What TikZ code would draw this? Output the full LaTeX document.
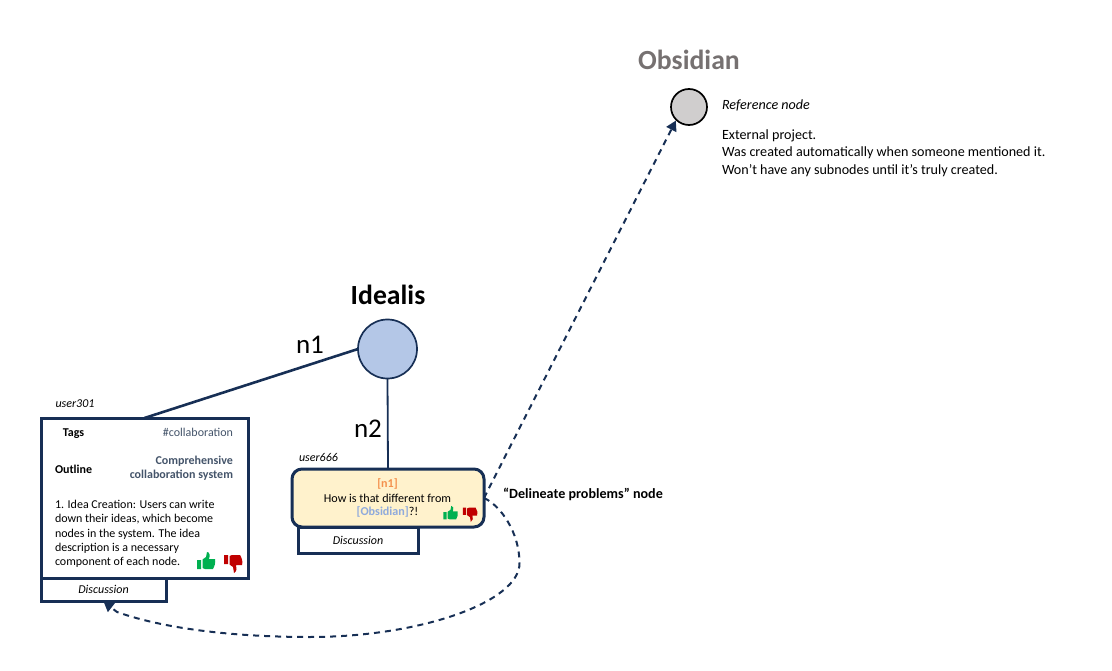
\documentclass[tikz,border=0pt]{standalone}
\usepackage{fontspec}
\setmainfont{Carlito}
\usetikzlibrary{arrows.meta,calc}
\definecolor{navy}{HTML}{172F55}
\definecolor{slate}{HTML}{44546A}
\definecolor{gr}{HTML}{00B050}
\definecolor{rd}{HTML}{C00000}
\tikzset{
  x=1pt,y=-1pt,
  txt/.style={inner sep=0pt,outer sep=0pt,font=\fontsize{12}{14.4}\selectfont,text=black},
  boxline/.style={draw=navy,line width=3pt,fill=white,inner sep=0pt,outer sep=0pt},
  link/.style={draw=navy,line width=2.6pt},
  dlink/.style={draw=navy,line width=2pt,dash pattern=on 6pt off 5pt},
  dtip/.style={-{Triangle[length=10pt,width=11pt,fill=navy]}},
  thumbup/.pic={\fill[pic actions] (-9,-1) rectangle (-5,8) (-3.5,-1.5) -- (0,-4) -- (1,-9) .. controls (4,-9) and (4,-5) .. (3,-2) -- (9,-2) .. controls (10,2) and (8,6) .. (7,8) -- (-1,8) -- (-3.5,7) -- cycle;},
  thumbdown/.pic={\fill[pic actions] (-9,-8) rectangle (-5,1) (-3.5,-7) -- (-1,-8) -- (7,-8) .. controls (9,-5) and (10,-1) .. (9,2) -- (3,2) .. controls (4,5) and (4,8) .. (1,10) -- (0,4) -- (-3.5,1.5) -- cycle;},
}
\begin{document}
\begin{tikzpicture}
\useasboundingbox (0,0) rectangle (1112,671);
% circles
\node (idealis) [circle,draw=navy,line width=1.7pt,fill={rgb,255:red,180;green,199;blue,231},minimum size=59pt,inner sep=0pt,outer sep=0pt] at (387.5,349) {};
\node (obs) [circle,draw=black,line width=1.7pt,fill={rgb,255:red,208;green,206;blue,206},minimum size=36pt,inner sep=0pt,outer sep=0pt] at (689,107) {};
% boxes
\node (d1) [boxline,minimum width=125pt,minimum height=23pt] at (103.5,590) {};
\node (d2) [boxline,minimum width=120pt,minimum height=26pt] at (358,540) {};
\node (card) [boxline,minimum width=207pt,minimum height=160pt] at (144.5,498) {};
\node (q) [boxline,fill={rgb,255:red,255;green,242;blue,204},rounded corners=10pt,minimum width=192pt,minimum height=58pt] at (388,498) {};
% connectors
\draw[link] (idealis.west) -- (card.north);
\draw[link,line width=1.8pt] (idealis.south) -- (q.north);
\draw[dlink,dtip,shorten >=1pt] (q.east) -- (obs.225);
\coordinate (m1) at (519.5,563);
\coordinate (m2) at (310,637);
\coordinate (m3) at (117,612);
\draw[dlink,dtip] (q.east) .. controls (500,505) and (519.5,532) .. (m1) .. controls (520,602) and (420,637) .. (m2) .. controls (235,637) and (165,629) .. (m3) -- (d1.south);
% titles
\node (t1) [txt,font=\fontsize{27.7}{30}\selectfont\bfseries] at (388,295) {Idealis};
\node (t2) [txt,font=\fontsize{27.7}{30}\selectfont\bfseries,text={rgb,255:red,118;green,113;blue,113}] at (689,60) {Obsidian};
\node (n1) [txt,font=\fontsize{27}{30}\selectfont] at (310,345) {n1};
\node (n2) [txt,font=\fontsize{27}{30}\selectfont] at (368,429) {n2};
\node (u1) [txt,anchor=west,font=\fontsize{12}{14}\selectfont\itshape] at (55.5,403.5) {user301};
\node (u2) [txt,anchor=west,font=\fontsize{12}{14}\selectfont\itshape] at (299,457) {user666};
% reference note
\node (r1) [txt,anchor=west,font=\fontsize{14.1}{16}\selectfont\itshape] at (722,105) {Reference node};
\node (r2) [txt,anchor=north west,align=left,font=\fontsize{14.1}{17.5}\selectfont] at (722,129.5) {External project.\\Was created automatically when someone mentioned it.\\Won’t have any subnodes until it’s truly created.};
% card
\node (tg) [txt,font=\fontsize{12}{14}\selectfont\bfseries] at (73.5,433.5) {Tags};
\node (hc) [txt,anchor=east,text=slate] at (233,432) {\#collaboration};
\node (ol) [txt,anchor=west,font=\fontsize{12}{14}\selectfont\bfseries] at (55,469) {Outline};
\node (cs) [txt,anchor=east,align=right,font=\fontsize{12}{14.4}\selectfont\bfseries,text=slate] at (233,468.5) {Comprehensive\\collaboration system};
\node (bd) [txt,anchor=north west,align=left,font=\fontsize{12}{14.4}\selectfont] at (55,500) {1. Idea Creation: Users can write\\down their ideas, which become\\nodes in the system. The idea\\description is a necessary\\component of each node.};
\node (ds1) [txt,font=\fontsize{12}{14}\selectfont\itshape] at (103.5,589) {Discussion};
\node (ds2) [txt,font=\fontsize{12}{14}\selectfont\itshape] at (358,540) {Discussion};
\pic[fill=gr] at (206,561) {thumbup};
\pic[fill=rd] at (233,563) {thumbdown};
% question
\node (qa) [txt,font=\fontsize{12.1}{14}\selectfont\bfseries,text={rgb,255:red,244;green,145;blue,77}] at (387.5,484) {[n1]};
\node (qb) [txt,font=\fontsize{12.1}{14}\selectfont] at (387.5,498) {How is that different from};
\node (qc) [txt,font=\fontsize{12.1}{14}\selectfont] at (387.5,512) {\textcolor[RGB]{143,170,220}{\textbf{[Obsidian]}}?!};
\pic[fill=gr,scale=.8] at (450.5,513) {thumbup};
\pic[fill=rd,scale=.8] at (470,514) {thumbdown};
\node (dp) [txt,anchor=west,font=\fontsize{14.1}{16}\selectfont\bfseries] at (503,494) {“Delineate problems” node};
\end{tikzpicture}
\end{document}
